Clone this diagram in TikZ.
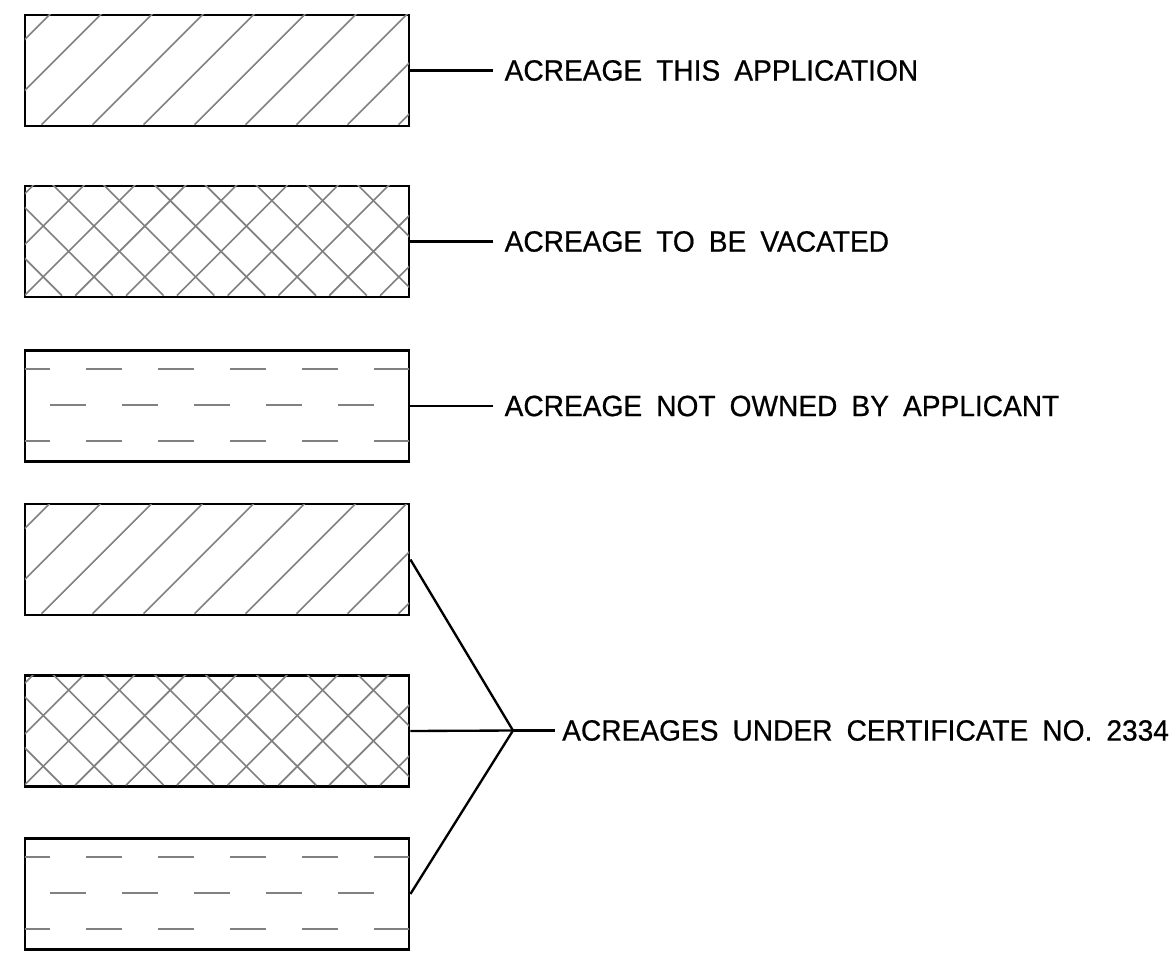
\documentclass[tikz,border=0pt]{standalone}
\usepackage{fontspec}
\setmainfont{Liberation Sans}[FakeStretch=0.96,WordSpace=1.8,FakeBold=0.6]
\usetikzlibrary{positioning}
\definecolor{hatchgray}{gray}{0.5}

\tikzset{
  areabox/.style={draw, line width=2.4pt, minimum width=11.52cm, minimum height=3.33cm, inner sep=0pt},
  hatchline/.style={hatchgray, line width=1.4pt},
  leader/.style={line width=2pt},
  legendtext/.style={anchor=west, inner xsep=0.33cm, inner ysep=0pt, font=\fontsize{25}{28}\selectfont},
}

% clip to the inside of a box, origin at its top left corner
\newcommand{\insidebox}[1]{%
  \clip ([shift={(1.2pt,1.2pt)}]#1.south west) rectangle ([shift={(-1.2pt,-1.2pt)}]#1.north east);}

\newcommand{\slanthatch}[1]{%
  \begin{scope}
    \insidebox{#1}
    \begin{scope}[shift={(#1.north west)}]
      \foreach \c in {27,78,...,486} \draw[hatchline] (\c,0) -- (\c-111,111);
    \end{scope}
  \end{scope}}

\newcommand{\crosshatch}[1]{%
  \begin{scope}
    \insidebox{#1}
    \begin{scope}[shift={(#1.north west)}]
      \foreach \c in {10.3,61.1,...,470} \draw[hatchline] (\c,0) -- (\c-111,111);
      \foreach \c in {-72.6,-21.8,...,340} \draw[hatchline] (\c,0) -- (\c+111,111);
    \end{scope}
  \end{scope}}

\newcommand{\dashhatch}[1]{%
  \begin{scope}
    \insidebox{#1}
    \begin{scope}[shift={(#1.north west)}]
      \foreach \k in {0,...,5} {
        \draw[hatchline] (-10+72*\k,20) -- (26+72*\k,20);
        \draw[hatchline] (-10+72*\k,92) -- (26+72*\k,92);
      }
      \foreach \k in {0,...,4} \draw[hatchline] (26+72*\k,56) -- (62+72*\k,56);
    \end{scope}
  \end{scope}}

\begin{document}
\begin{tikzpicture}[x=0.03cm, y=-0.03cm]

\useasboundingbox (0,0) rectangle (1176,955);

\node[areabox] (app) at (217,70.5) {};
\node[areabox] (vac) at (217,241.5) {};
\node[areabox] (own) at (217,406) {};

\slanthatch{app}
\crosshatch{vac}
\dashhatch{own}

\node[legendtext, right=2.49cm of app] (app-l) {ACREAGE THIS APPLICATION};
\node[legendtext, right=2.49cm of vac] (vac-l) {ACREAGE TO BE VACATED};
\node[legendtext, right=2.49cm of own] (own-l) {ACREAGE NOT OWNED BY APPLICANT};

\draw[leader] (app.east) -- (app-l.west);
\draw[leader] (vac.east) -- (vac-l.west);
\draw[leader] (own.east) -- (own-l.west);

%%%%%%%%%%%%%%%

\node[areabox] (certapp) at (217,559.5) {};
\node[areabox] (certvac) at (217,731) {};
\node[areabox] (certown) at (217,894) {};

\slanthatch{certapp}
\crosshatch{certvac}
\dashhatch{certown}

\coordinate (join) at (513,730.5);
\node[legendtext, inner xsep=0.21cm] (cert-l) at (555,730.5) {ACREAGES UNDER CERTIFICATE NO. 2334};

\draw[leader] (certapp.east) -- (join);
\draw[leader] (certvac.east) -- (join);
\draw[leader] (certown.east) -- (join);
\draw[leader] (join) -- (cert-l.west);

\end{tikzpicture}
\end{document}
